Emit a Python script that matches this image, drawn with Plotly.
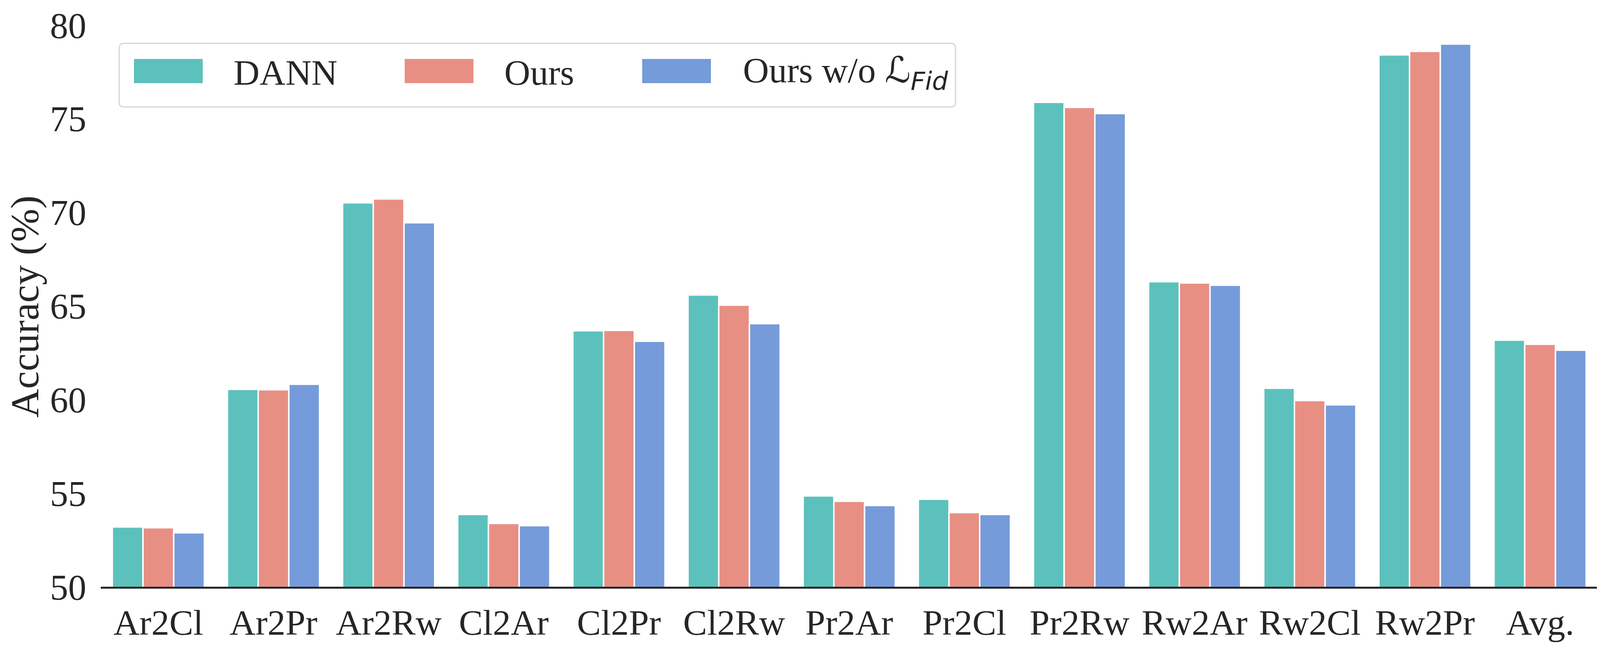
import plotly.graph_objects as go

# Domain adaptation tasks (Office-Home) and accuracies
tasks = ["Ar2Cl", "Ar2Pr", "Ar2Rw", "Cl2Ar", "Cl2Pr", "Cl2Rw", "Pr2Ar",
         "Pr2Cl", "Pr2Rw", "Rw2Ar", "Rw2Cl", "Rw2Pr", "Avg."]
dann = [53.19, 60.54, 70.50, 53.86, 63.67, 65.58, 54.85, 54.67, 75.87, 66.29, 60.60, 78.40, 63.17]
ours = [53.15, 60.52, 70.71, 53.38, 63.69, 65.04, 54.56, 53.96, 75.60, 66.22, 59.94, 78.59, 62.95]
ours_wo_fid = [52.88, 60.81, 69.44, 53.26, 63.11, 64.05, 54.34, 53.86, 75.27, 66.10, 59.71, 78.98, 62.63]
yticks = [50, 55, 60, 65, 70, 75, 80]

series_names = ["DANN", "Ours",
                "Ours w/o <span style='font-family:DejaVu Sans'>ℒ</span>"
                "<sub><span style='font-family:DejaVu Sans'><i>Fid</i></span></sub>"]
colors = ["#5CC1BC", "#E88F84", "#769BDA"]

# the photo only shows the first 4096 px of the page, so the figure is fitted to that
W, H = 4088, 1652
ML, MR, MT, MB = 250, 6, 56, 157
TEXT = "#262626"
FONT = "Liberation Serif"


def px_x(x):
    return (x - ML) / (W - ML - MR)


def px_y(y):
    return (H - MB - y) / (H - MT - MB)


fig = go.Figure()
for name, vals, col in zip(series_names, [dann, ours, ours_wo_fid], colors):
    fig.add_trace(go.Bar(
        x=tasks, y=vals, name=name,
        marker=dict(color=col, line=dict(color="white", width=3.7)),
        showlegend=False,
    ))

# hand-built legend (plotly's bar legend swatches do not scale)
shapes = []
annotations = []
bx0, bx1, by0, by1, r = 297, 2438, 103, 266, 12
path = (f"M {px_x(bx0 + r)},{px_y(by0)} L {px_x(bx1 - r)},{px_y(by0)} "
        f"Q {px_x(bx1)},{px_y(by0)} {px_x(bx1)},{px_y(by0 + r)} "
        f"L {px_x(bx1)},{px_y(by1 - r)} "
        f"Q {px_x(bx1)},{px_y(by1)} {px_x(bx1 - r)},{px_y(by1)} "
        f"L {px_x(bx0 + r)},{px_y(by1)} "
        f"Q {px_x(bx0)},{px_y(by1)} {px_x(bx0)},{px_y(by1 - r)} "
        f"L {px_x(bx0)},{px_y(by0 + r)} "
        f"Q {px_x(bx0)},{px_y(by0)} {px_x(bx0 + r)},{px_y(by0)} Z")
shapes.append(dict(type="path", xref="paper", yref="paper", path=path,
                   line=dict(color="#d6d6d6", width=3), fillcolor="white"))

swatch_x = [335, 1028, 1636]
label_x = [588, 1281, 1892]
for sx, lx, name, col in zip(swatch_x, label_x, series_names, colors):
    shapes.append(dict(type="rect", xref="paper", yref="paper",
                       x0=px_x(sx), x1=px_x(sx + 176), y0=px_y(143), y1=px_y(205),
                       fillcolor=col, line=dict(width=0)))
    annotations.append(dict(xref="paper", yref="paper", x=px_x(lx), y=px_y(178),
                            xanchor="left", yanchor="middle", showarrow=False,
                            text=name, font=dict(family=FONT, size=92, color=TEXT)))

# y-axis title
annotations.append(dict(xref="paper", yref="paper", x=px_x(55), y=px_y(778),
                        xanchor="center", yanchor="middle", showarrow=False,
                        textangle=-90, text="Accuracy (%)",
                        font=dict(family=FONT, size=102, color=TEXT)))

fig.update_layout(
    width=W, height=H,
    margin=dict(l=ML, r=MR, t=MT, b=MB, pad=0),
    paper_bgcolor="white", plot_bgcolor="white",
    barmode="group", bargap=0.2, bargroupgap=0,
    font=dict(family=FONT, size=92, color=TEXT),
    shapes=shapes, annotations=annotations,
    xaxis=dict(showgrid=False, showline=True, linecolor=TEXT, linewidth=5,
               ticks="", tickfont=dict(size=92), ticklabelstandoff=8,
               automargin=False),
    yaxis=dict(range=[50, 80], tickvals=yticks, showgrid=False, showline=False,
               zeroline=False, ticks="", tickfont=dict(size=93), ticklabelstandoff=36,
               automargin=False),
)

fig.write_html("out.html")
